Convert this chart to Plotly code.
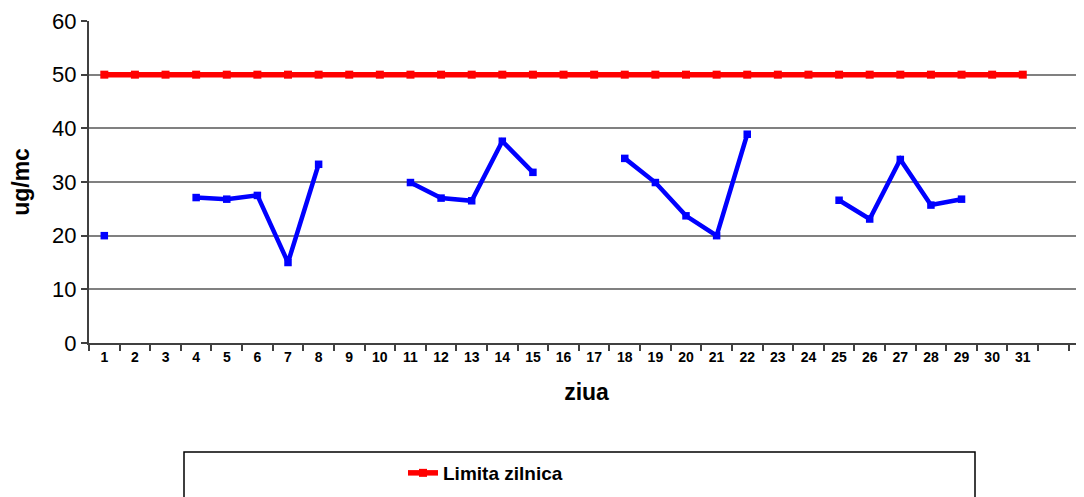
import plotly.graph_objects as go

days = list(range(1, 32))
day_labels = [str(d) for d in days]
pm10 = [20.0, None, None, 27.1, 26.8, 27.5, 15.0, 33.3, None, None,
        29.9, 27.0, 26.5, 37.6, 31.8, None, None, 34.4, 29.9, 23.7,
        20.0, 38.9, None, None, 26.6, 23.1, 34.2, 25.7, 26.8, None, None]
limit = [50] * 31

OFF = 8  # default page body margin
W, H = 1084 - OFF, 497 - OFF
L, R, T, B = 89 - OFF, 0, 21 - OFF, 497 - 343
pw, ph = W - L - R, H - T - B

def px_x(x):
    return (x - OFF - L) / pw

def px_y(y):
    return (H - B - (y - OFF)) / ph

fig = go.Figure()
fig.add_trace(go.Scatter(
    x=days, y=limit, mode="lines+markers", name="<b>Limita zilnica</b>",
    line=dict(color="#FF0000", width=5.5),
    marker=dict(symbol="square", size=8, color="#FF0000"),
))
fig.add_trace(go.Scatter(
    x=days, y=pm10, mode="lines+markers", name="PM10", showlegend=False,
    connectgaps=False,
    line=dict(color="#0000FF", width=4.5),
    marker=dict(symbol="square", size=7.5, color="#0000FF"),
))

fig.add_shape(type="rect", xref="paper", yref="paper",
              x0=px_x(184), x1=px_x(975), y0=px_y(452), y1=px_y(520),
              line=dict(color="#000000", width=1.5), fillcolor="rgba(0,0,0,0)")

fig.update_layout(
    width=W, height=H,
    margin=dict(l=L, r=R, t=T, b=B, autoexpand=False),
    plot_bgcolor="white", paper_bgcolor="white",
    font=dict(family="Liberation Sans, Arial", color="#000000"),
    showlegend=True,
    legend=dict(x=px_x(403), xanchor="left", y=px_y(473), yanchor="middle",
                font=dict(size=19, family="Liberation Sans, Arial", color="#000000"),
                bgcolor="rgba(0,0,0,0)", borderwidth=0),
    xaxis=dict(
        range=[0.5, 33.0], tickmode="array", tickvals=days,
        ticktext=[f"<b>{t}</b>" for t in day_labels],
        ticks="", tickfont=dict(size=14), showgrid=False, zeroline=False,
        showline=True, linecolor="#404040", linewidth=2,
        minor=dict(tick0=0.5, dtick=1, ticks="outside", ticklen=6, tickwidth=1.5,
                   tickcolor="#404040", showgrid=False),
        title=dict(text="<b>ziua</b>", font=dict(size=23), standoff=20),
    ),
    yaxis=dict(
        range=[0, 60], tickmode="linear", tick0=0, dtick=10,
        ticks="outside", ticklen=6, tickwidth=1.5, tickcolor="#404040",
        tickfont=dict(size=22), showgrid=True, gridcolor="#808080", gridwidth=1.5,
        zeroline=False, showline=True, linecolor="#404040", linewidth=2,
        title=dict(text="<b>ug/mc</b>", font=dict(size=23), standoff=20),
    ),
)

fig.write_html("out.html")
